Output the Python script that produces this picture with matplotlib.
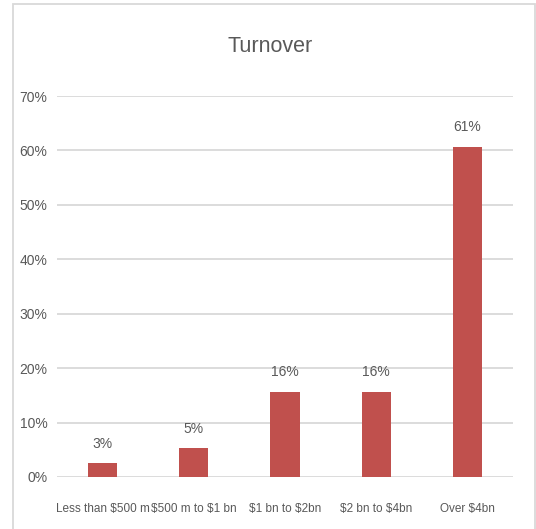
import matplotlib
matplotlib.use("Agg")
import matplotlib.pyplot as plt
from matplotlib.patches import Rectangle
from matplotlib.ticker import PercentFormatter

categories = ["Less than $500 m", "$500 m to $1 bn", "$1 bn to $2bn", "$2 bn to $4bn", "Over $4bn"]
values = [0.025, 0.053, 0.157, 0.157, 0.607]
value_labels = ["3%", "5%", "16%", "16%", "61%"]

plt.rcParams["font.family"] = ["Liberation Sans", "DejaVu Sans"]
plt.rcParams["text.parse_math"] = False

text_color = "#595959"
grid_color = "#D9D9D9"
bar_color = "#C0504D"

fig = plt.figure(figsize=(5.36, 5.29), dpi=100)
fig.add_artist(Rectangle((13 / 536, -0.01), (535 - 13) / 536, 1 - 4 / 529 + 0.01,
                         transform=fig.transFigure, fill=False, edgecolor=grid_color, linewidth=1.3))

ax = fig.add_axes([57 / 536, 1 - 477 / 529, (513 - 57) / 536, (477 - 96) / 529])
x = range(len(categories))
ax.bar(x, values, width=0.32, color=bar_color, zorder=3)
for xi, v, lab in zip(x, values, value_labels):
    ax.annotate(lab, (xi, v), xytext=(0, 9), textcoords="offset points",
                ha="center", va="bottom", fontsize=10, color=text_color)

ax.set_xlim(-0.5, len(categories) - 0.5)
ax.set_ylim(0, 0.7)
ax.set_yticks([i / 10 for i in range(8)])
ax.yaxis.set_major_formatter(PercentFormatter(1.0, decimals=0))
ax.set_xticks(list(x))
ax.set_xticklabels(categories)
ax.tick_params(axis="both", length=0, colors=text_color, labelsize=10)
ax.tick_params(axis="x", labelsize=8.5, pad=19)
ax.tick_params(axis="y", pad=7)
ax.grid(axis="y", color=grid_color, linewidth=1.3, zorder=0)
for s in ax.spines.values():
    s.set_visible(False)

fig.text(270 / 536, 1 - 47 / 529, "Turnover", ha="center", va="center", fontsize=15.5, color=text_color)

fig.savefig("out.png", dpi=100)
